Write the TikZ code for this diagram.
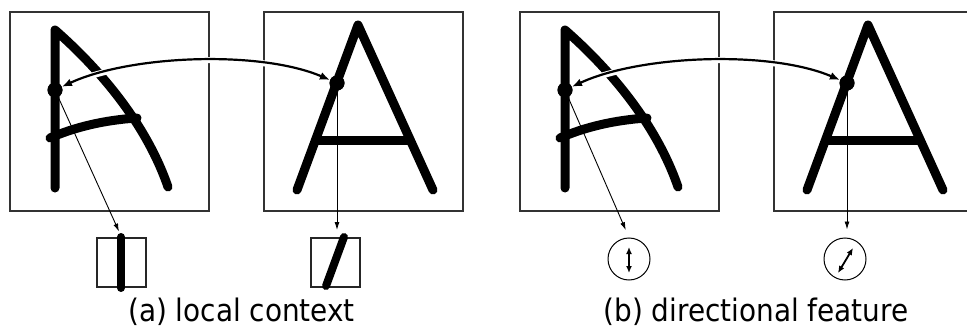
\documentclass[tikz,border=0pt]{standalone}
\usepackage{fontspec}
\setmainfont{DejaVu Sans Condensed}
\usetikzlibrary{arrows.meta,calc}
\tikzset{
  panel/.style={draw=black!80,line width=1.2pt,minimum width=199pt,minimum height=199pt,inner sep=0pt},
  glyph/.style={line width=9pt,line cap=round,line join=round},
  dotnode/.style={circle,fill=black,minimum size=15pt,inner sep=0pt},
  bigarrow/.style={line width=2.2pt,{Latex[length=10pt,width=8pt]}-{Latex[length=10pt,width=8pt]},
     preaction={draw,white,line width=6pt,-}},
  thinarrow/.style={line width=0.9pt,-{Latex[length=8pt,width=5pt]}},
  ctxbox/.style={draw=black!85,line width=2pt,minimum width=49pt,minimum height=49pt,inner sep=0pt},
  ctxstroke/.style={line width=8pt,line cap=round},
  dirnode/.style={circle,draw=black,line width=1pt,minimum size=42pt,inner sep=0pt},
  dirarrow/.style={line width=1.8pt,{Latex[length=7pt,width=6pt]}-{Latex[length=7pt,width=6pt]}},
  caption/.style={font=\fontsize{31}{36}\selectfont,anchor=base,inner sep=0pt}
}
\begin{document}
\begin{tikzpicture}[x=1pt,y=-1pt]
\useasboundingbox (0,0) rectangle (967,329);
% panel boxes
\node[panel] (p1) at (109.5,111.5) {};
\node[panel] (p2) at (363.5,111.5) {};
\node[panel] (p3) at (619.5,111.5) {};
\node[panel] (p4) at (873.5,111.5) {};
% glyphs
\foreach \s in {0,510}{
  \begin{scope}[xshift=\s pt]
    \draw[glyph] (55,188) -- (55,30) .. controls (95,65) and (145,120) .. (168,187);
    \draw[glyph] (50,138) .. controls (75,127) and (105,120) .. (137,118);
    \draw[glyph] (297,190) -- (358,25) -- (433,190);
    \draw[line width=9pt] (315,140) -- (411,140);
  \end{scope}
}
% dot nodes
\node[dotnode] (d1) at (55,90) {};
\node[dotnode] (d2) at (337,83) {};
\node[dotnode] (d3) at (565,90) {};
\node[dotnode] (d4) at (847,83) {};
% curved arrows
\draw[bigarrow] (d1) .. controls +(75,-35) and +(-77,-33) .. (d2);
\draw[bigarrow] (d3) .. controls +(75,-35) and +(-77,-33) .. (d4);
% redraw dots above halos
\fill (d1) circle (7.5pt) (d2) circle (7.5pt) (d3) circle (7.5pt) (d4) circle (7.5pt);
% local context boxes
\node[ctxbox] (lc1) at (121.5,262.5) {};
\node[ctxbox] (lc2) at (335,262.5) {};
\draw[ctxstroke] (121,237) -- (121,288);
\draw[ctxstroke] (344,237) -- (326,286);
% directional features
\node[dirnode] (c3) at (629,259) {};
\node[dirnode] (c4) at (845,259) {};
\draw[dirarrow] (629,247) -- (629,273);
\draw[dirarrow] (838,273) -- (853,248);
% thin arrows
\draw[thinarrow,shorten >=6pt] (d1) -- (lc1.north);
\draw[thinarrow,shorten >=7pt] (d2) -- (d2 |- lc2.north);
\draw[thinarrow,shorten >=8pt] (d3) -- (c3.north);
\draw[thinarrow,shorten >=8pt] (d4) -- (d4 |- c4.north);
% captions
\node[caption] (la) at (241.5,321) {(a) local context};
\node[caption] (lb) at (756,321) {(b) directional feature};
\end{tikzpicture}
\end{document}
